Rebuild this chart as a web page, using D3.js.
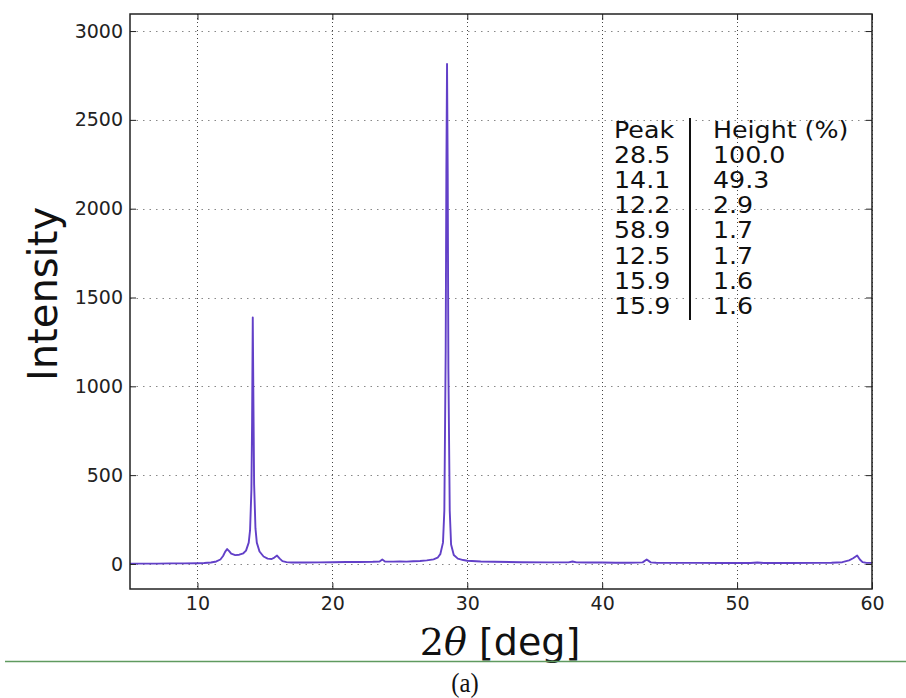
<!DOCTYPE html>
<html>
<head>
<meta charset="utf-8">
<script src="https://cdn.jsdelivr.net/npm/d3@7"></script>
<style>
  html, body { margin: 0; padding: 0; background: #fff; }
  svg { display: block; }
</style>
</head>
<body>
<svg id="chart" width="906" height="698"></svg>
<script>
// ---- data ----
const twoTheta = [5, 6, 7, 8, 9, 10, 10.5, 11, 11.4, 11.7, 11.9, 12.05, 12.2, 12.35, 12.5, 12.8, 13.1, 13.4, 13.6, 13.8, 13.9, 14.0, 14.05, 14.1, 14.15, 14.2, 14.3, 14.4, 14.6, 14.9, 15.2, 15.5, 15.7, 15.9, 16.1, 16.3, 16.6, 17, 18, 19, 20, 21, 22, 23, 23.5, 23.7, 23.9, 24.5, 25, 25.5, 26, 26.5, 27, 27.5, 27.8, 28.0, 28.2, 28.3, 28.4, 28.45, 28.5, 28.55, 28.6, 28.7, 28.8, 29.0, 29.3, 29.7, 30, 31, 32, 34, 36, 37.5, 37.8, 38.1, 39, 40, 41, 42, 43, 43.3, 43.6, 44, 45, 47, 49, 51, 51.5, 52, 54, 56, 57, 57.8, 58.3, 58.6, 58.9, 59.1, 59.3, 59.6, 60];
const intensity = [2, 2, 2, 3, 3, 4, 5, 8, 14, 25, 45, 68, 84, 72, 58, 50, 52, 60, 75, 120, 190, 420, 800, 1388, 900, 450, 200, 120, 70, 42, 30, 28, 36, 47, 30, 16, 10, 8, 8, 9, 10, 11, 11, 12, 14, 25, 14, 13, 14, 13, 15, 17, 20, 26, 35, 55, 120, 300, 1200, 2200, 2815, 2200, 1100, 300, 110, 50, 30, 22, 18, 14, 12, 10, 9, 9, 14, 9, 8, 8, 7, 7, 9, 25, 9, 7, 6, 6, 5, 5, 8, 5, 5, 6, 7, 10, 20, 32, 48, 25, 10, 6, 6];

const xTicks = [10, 20, 30, 40, 50, 60];
const yTicks = [0, 500, 1000, 1500, 2000, 2500, 3000];

const tableHeader = ["Peak", "Height (%)"];
const peakPositions = ["28.5", "14.1", "12.2", "58.9", "12.5", "15.9", "15.9"];
const peakHeights = ["100.0", "49.3", "2.9", "1.7", "1.7", "1.6", "1.6"];

const xLabelMath = "2", xLabelTheta = "\u03B8", xLabelText = " [deg]";
const yLabel = "Intensity";
const caption = "(a)";

// ---- layout ----
const svg = d3.select("#chart");
const L = 130, R = 872, T = 14, B = 589;
const x = d3.scaleLinear().domain([5, 60]).range([L, R]);
const y = d3.scaleLinear().domain([-141, 3096]).range([B, T]);
const sans = "'DejaVu Sans', sans-serif";

// grid
const grid = svg.append("g");
grid.selectAll("line.gx").data(xTicks).join("line")
  .attr("x1", d => Math.round(x(d)) + 0.5).attr("x2", d => Math.round(x(d)) + 0.5)
  .attr("y1", T).attr("y2", B)
  .attr("stroke", "#444").attr("stroke-width", 1).attr("stroke-dasharray", "1,3");
grid.selectAll("line.gy").data(yTicks).join("line")
  .attr("x1", L).attr("x2", R)
  .attr("y1", d => Math.round(y(d)) + 0.5).attr("y2", d => Math.round(y(d)) + 0.5)
  .attr("stroke", "#888").attr("stroke-width", 1).attr("stroke-dasharray", "1.5,5");

// data line
const line = d3.line().x((d, i) => x(twoTheta[i])).y(d => y(d));
svg.append("path").datum(intensity)
  .attr("d", line)
  .attr("fill", "none")
  .attr("stroke", "#6240c8")
  .attr("stroke-width", 1.9)
  .attr("stroke-linejoin", "round");

// axes
const tickLen = 6;
const axB = svg.append("g").attr("transform", `translate(0,${B})`)
  .call(d3.axisBottom(x).tickValues(xTicks).tickSizeInner(-tickLen).tickSizeOuter(0).tickPadding(8).tickFormat(d3.format("d")));
const axT = svg.append("g").attr("transform", `translate(0,${T})`)
  .call(d3.axisTop(x).tickValues(xTicks).tickSizeInner(-tickLen).tickSizeOuter(0).tickFormat(""));
const axL = svg.append("g").attr("transform", `translate(${L},0)`)
  .call(d3.axisLeft(y).tickValues(yTicks).tickSizeInner(-tickLen).tickSizeOuter(0).tickPadding(7).tickFormat(d3.format("d")));
const axR = svg.append("g").attr("transform", `translate(${R},0)`)
  .call(d3.axisRight(y).tickValues(yTicks).tickSizeInner(-tickLen).tickSizeOuter(0).tickFormat(""));
[axB, axT, axL, axR].forEach(a => {
  a.select(".domain").remove();
  a.selectAll(".tick line").attr("stroke", "#222").attr("stroke-width", 1);
  a.selectAll("text").attr("font-family", sans).attr("font-size", 19).attr("fill", "#222");
});
axB.selectAll("text").attr("dy", "0.71em");

// frame
svg.append("rect").attr("x", L).attr("y", T).attr("width", R - L).attr("height", B - T)
  .attr("fill", "none").attr("stroke", "#222").attr("stroke-width", 1.5);

// table
const tbl = svg.append("g").attr("font-family", sans).attr("font-size", 23).attr("fill", "#111");
const rowsLeft = [tableHeader[0]].concat(peakPositions);
const rowsRight = [tableHeader[1]].concat(peakHeights);
const rowY = i => 138 + i * 25.1;
tbl.selectAll("text.l").data(rowsLeft).join("text")
  .attr("transform", (d, i) => `translate(614,${rowY(i)}) scale(1.1,1)`)
  .text(d => d);
tbl.selectAll("text.r").data(rowsRight).join("text")
  .attr("transform", (d, i) => `translate(713,${rowY(i)}) scale(1.1,1)`)
  .text(d => d);
svg.append("line").attr("x1", 690).attr("x2", 690).attr("y1", 118).attr("y2", 320)
  .attr("stroke", "#111").attr("stroke-width", 2);

// axis labels
const xl = svg.append("text").attr("x", 500).attr("y", 655).attr("text-anchor", "middle")
  .attr("font-size", 38).attr("fill", "#111");
xl.append("tspan").attr("font-family", "'DejaVu Serif', serif").text(xLabelMath);
xl.append("tspan").attr("font-family", "'DejaVu Serif', serif").attr("font-style", "italic").text(xLabelTheta);
xl.append("tspan").attr("font-family", sans).text(xLabelText);

svg.append("text").attr("transform", "translate(57,294) rotate(-90)")
  .attr("text-anchor", "middle").attr("font-family", sans).attr("font-size", 40).attr("fill", "#111")
  .text(yLabel);

// separator and caption
svg.append("line").attr("x1", 5).attr("x2", 906).attr("y1", 661.5).attr("y2", 661.5)
  .attr("stroke", "#5f9a5f").attr("stroke-width", 1.5);
svg.append("text").attr("transform", "translate(465,692) scale(0.88,1)").attr("text-anchor", "middle")
  .attr("font-family", "'Liberation Serif', 'Times New Roman', serif").attr("font-size", 28).attr("fill", "#111")
  .text(caption);
</script>
</body>
</html>
